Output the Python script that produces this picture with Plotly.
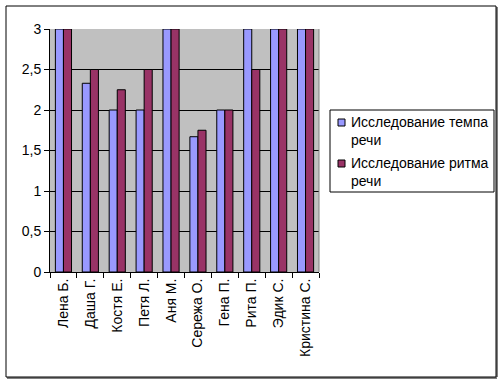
import plotly.graph_objects as go

names = ["Лена Б.", "Даша Г.", "Костя Е.", "Петя Л.", "Аня М.", "Сережа О.",
         "Гена П.", "Рита П.", "Эдик С.", "Кристина С."]
tempo = [3, 2.33, 2, 2, 3, 1.67, 2, 3, 3, 3]
rhythm = [3, 2.5, 2.25, 2.5, 3, 1.75, 2, 2.5, 3, 3]
series_names = ["Исследование темпа<br>речи", "Исследование ритма<br>речи"]
series_colors = ["#9999FF", "#993366"]
ytick_vals = [0, 0.5, 1, 1.5, 2, 2.5, 3]
ytick_text = ["0", "0,5", "1", "1,5", "2", "2,5", "3"]

fig = go.Figure()
for vals, nm, col in zip([tempo, rhythm], series_names, series_colors):
    fig.add_bar(x=names, y=vals, name=nm,
                marker=dict(color=col, line=dict(color="black", width=1)))

L, R, T, B = 50, 319, 29, 272
W, H = 504, 384
pw, ph = R - L, B - T

def px(x):
    return (x - L) / pw

def py(y):
    return (B - y) / ph

fig.update_layout(
    width=W, height=H,
    margin=dict(l=L, r=W - R, t=T, b=H - B, autoexpand=False),
    paper_bgcolor="white", plot_bgcolor="#C0C0C0",
    font=dict(family="Liberation Sans, Arial", size=13, color="black"),
    barmode="group", bargap=0.4, bargroupgap=0,
    showlegend=False,
    xaxis=dict(showline=True, linecolor="black", linewidth=1, automargin=False,
               ticks="outside", ticklen=5, tickcolor="black", tickson="boundaries",
               tickangle=-90, tickfont=dict(size=14), showgrid=False),
    yaxis=dict(range=[0, 3], tickvals=ytick_vals, ticktext=ytick_text, automargin=False,
               showline=True, linecolor="black", linewidth=1,
               ticks="outside", ticklen=5, tickcolor="black",
               showgrid=True, gridcolor="black", gridwidth=1,
               tickfont=dict(size=14), zeroline=False),
)
# plot area right border
fig.add_shape(type="line", xref="paper", yref="paper", x0=1, x1=1, y0=0, y1=1,
              line=dict(color="#808080", width=1))
# outer chart border
fig.add_shape(type="rect", xref="paper", yref="paper",
              x0=px(6), x1=px(496), y0=py(377), y1=py(6),
              line=dict(color="black", width=1))
fig.add_shape(type="line", xref="paper", yref="paper",
              x0=px(497), x1=px(497), y0=py(377), y1=py(7),
              line=dict(color="black", width=1))
fig.add_shape(type="line", xref="paper", yref="paper",
              x0=px(7), x1=px(497), y0=py(378), y1=py(378),
              line=dict(color="black", width=1))

# manual legend
fig.add_shape(type="rect", xref="paper", yref="paper",
              x0=px(330), x1=px(494), y0=py(192), y1=py(110),
              line=dict(color="black", width=1), fillcolor="white")
entry_tops = [113, 154]
for top, nm, col in zip(entry_tops, series_names, series_colors):
    fig.add_shape(type="rect", xref="paper", yref="paper",
                  x0=px(338), x1=px(345), y0=py(top + 13), y1=py(top + 6),
                  line=dict(color="black", width=1), fillcolor=col)
    fig.add_annotation(xref="paper", yref="paper", x=px(350), y=py(top),
                       xanchor="left", yanchor="top", align="left",
                       text=nm, showarrow=False, font=dict(size=14),
                       borderpad=0)

fig.write_html("out.html", config={"displayModeBar": False},
               post_script="document.body.style.margin='0';document.body.style.overflow='hidden';")
